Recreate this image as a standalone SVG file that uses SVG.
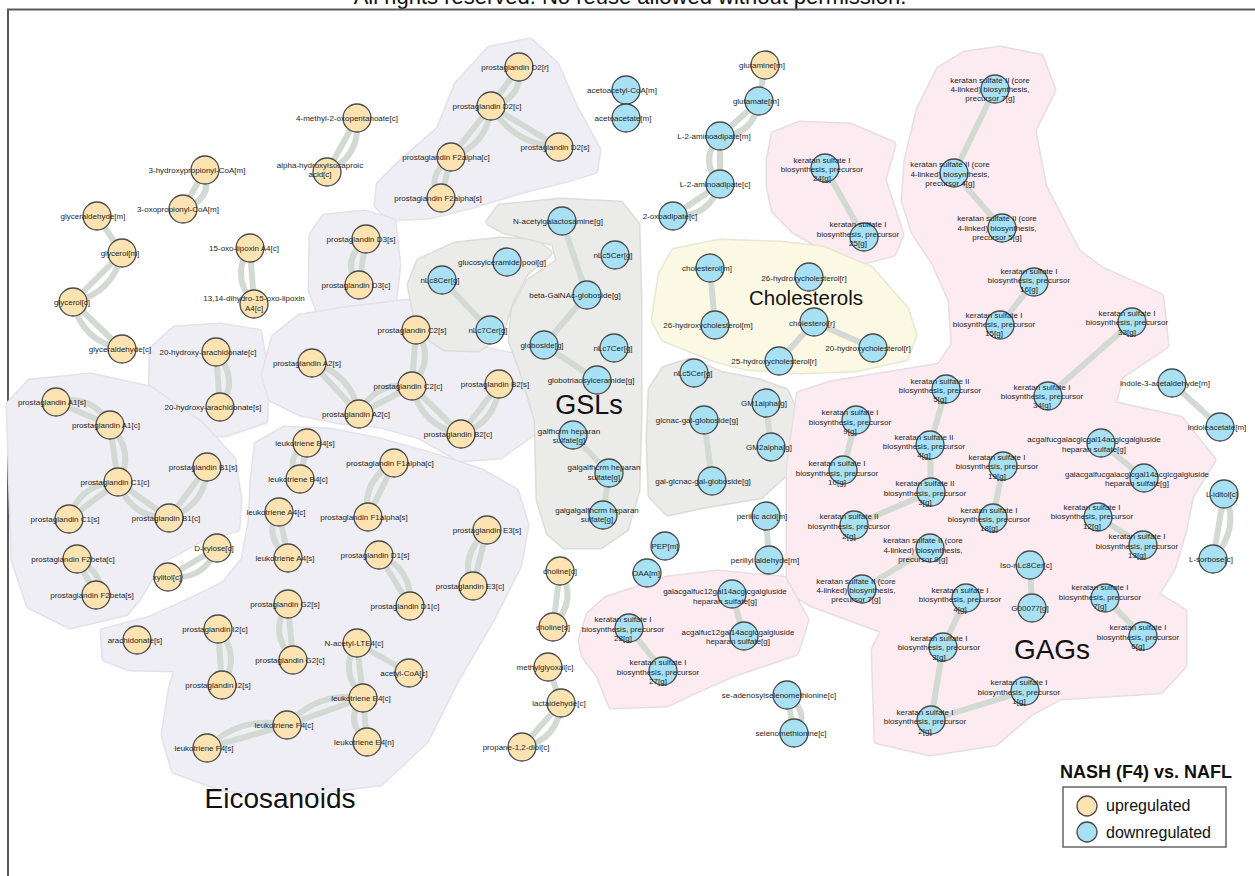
<svg xmlns="http://www.w3.org/2000/svg" xmlns:xlink="http://www.w3.org/1999/xlink" width="1255" height="876" viewBox="0 0 1255 876">
<style>
text{font-family:"Liberation Sans",Arial,sans-serif;font-size:8px;fill:#1e1e1e;text-anchor:middle}
.up{fill:#FDE3B1;stroke:#4a4a4a;stroke-width:1.3}
.dn{fill:#A8E1F3;stroke:#4a4a4a;stroke-width:1.3}
.e{fill:none;stroke:#D3DAD3;stroke-width:6;stroke-linecap:round}
.bo{stroke-width:9;stroke-linejoin:round}
.bi{stroke-width:6;stroke-linejoin:round}
.lav .bo{fill:#E3E1EB;stroke:#E3E1EB}.lav .bi{fill:#EFEEF5;stroke:#EFEEF5}
.gry .bo{fill:#DCDCDA;stroke:#DCDCDA}.gry .bi{fill:#EBEBEA;stroke:#EBEBEA}
.pnk .bo{fill:#E8DDE1;stroke:#E8DDE1}.pnk .bi{fill:#FCEBF0;stroke:#FCEBF0}
.yel .bo{fill:#E9E7D2;stroke:#E9E7D2}.yel .bi{fill:#FBF9E3;stroke:#FBF9E3}
.big{font-size:28px;fill:#111}
.leg{font-size:16px;text-anchor:start;fill:#111}
</style>
<defs>
<polygon id="p-pgd2" points="378,205 380,185 400,165 440,130 458,85 490,50 530,42 555,65 575,110 597,150 594,170 560,180 520,190 470,205 430,215 390,217"/>
<polygon id="p-pgd3" points="313,235 325,218 365,214 392,222 397,265 392,308 360,318 322,316 312,290"/>
<polygon id="p-oh20" points="153,350 175,330 220,327 258,333 265,375 264,420 225,433 165,432 152,405"/>
<polygon id="p-pga2" points="265,375 275,338 300,318 350,310 410,303 445,312 455,338 480,350 530,360 545,390 535,430 500,455 460,458 420,435 380,424 340,420 300,412 272,398"/>
<polygon id="p-l1" points="10,405 30,383 90,377 150,390 200,425 232,460 238,500 236,528 200,538 160,560 137,598 125,612 70,625 30,605 15,560 12,470"/>
<polygon id="p-b" points="258,445 285,430 330,432 380,442 430,456 480,472 515,492 525,525 518,565 490,620 455,680 425,740 380,782 300,792 225,788 175,770 165,735 172,690 178,668 130,667 106,658 104,632 150,620 190,602 225,585 245,560 252,520 254,480"/>
<polygon id="p-gslL" points="411,285 420,262 455,246 500,241 535,243 548,253 525,272 510,300 500,332 478,348 445,347 420,330"/>
<polygon id="p-gslC" points="490,222 500,208 560,202 620,205 636,225 638,300 638,420 636,490 625,528 600,545 565,545 550,532 540,500 538,420 523,370 512,340 515,310 530,282 560,262 555,242 505,230"/>
<polygon id="p-gslR" points="652,390 665,370 690,362 720,375 760,383 785,392 797,420 793,465 760,495 700,505 668,512 652,495 650,440"/>
<polygon id="p-ks2425" points="770,160 775,135 800,125 850,127 892,145 882,180 892,210 900,235 892,253 865,260 830,250 795,230 775,210 770,185"/>
<polygon id="p-gag" points="965,55 1000,50 1040,58 1052,90 1032,130 1043,187 1077,253 1100,270 1160,297 1165,345 1120,375 1112,405 1180,420 1212,460 1190,495 1183,530 1172,567 1155,595 1183,612 1183,665 1160,690 1060,696 1030,712 995,742 930,752 878,740 875,650 885,630 812,603 790,590 790,470 800,395 830,385 940,367 955,345 952,300 935,262 915,232 905,200 908,160 920,110 940,70"/>
<polygon id="p-chol" points="655,320 662,275 675,252 720,243 780,245 823,250 870,270 905,310 913,335 905,357 855,368 800,370 745,366 715,358 690,348 665,338"/>
<polygon id="p-pmid" points="582,640 590,615 607,600 667,580 717,574 783,580 805,620 795,652 733,673 690,692 667,703 612,705 600,675 585,655"/>
</defs>
<rect width="1255" height="876" fill="#ffffff"/>
<text x="630" y="4" style="font-size:22px;fill:#111">All rights reserved. No reuse allowed without permission.</text>
<path d="M8,876 L8,9.5 L1255,9.5" fill="none" stroke="#5a5a5a" stroke-width="2"/>
<g id="blobs">
<g class="lav"><use xlink:href="#p-pgd2" class="bo"/><use xlink:href="#p-pgd2" class="bi"/></g>
<g class="lav"><use xlink:href="#p-pgd3" class="bo"/><use xlink:href="#p-pgd3" class="bi"/></g>
<g class="lav"><use xlink:href="#p-oh20" class="bo"/><use xlink:href="#p-oh20" class="bi"/></g>
<g class="lav"><use xlink:href="#p-pga2" class="bo"/><use xlink:href="#p-pga2" class="bi"/></g>
<g class="lav"><use xlink:href="#p-l1" class="bo"/><use xlink:href="#p-l1" class="bi"/></g>
<g class="lav"><use xlink:href="#p-b" class="bo"/><use xlink:href="#p-b" class="bi"/></g>
<g class="gry"><use xlink:href="#p-gslL" class="bo"/><use xlink:href="#p-gslL" class="bi"/></g>
<g class="gry"><use xlink:href="#p-gslC" class="bo"/><use xlink:href="#p-gslC" class="bi"/></g>
<g class="gry"><use xlink:href="#p-gslR" class="bo"/><use xlink:href="#p-gslR" class="bi"/></g>
<g class="pnk"><use xlink:href="#p-ks2425" class="bo"/><use xlink:href="#p-ks2425" class="bi"/></g>
<g class="pnk"><use xlink:href="#p-gag" class="bo"/><use xlink:href="#p-gag" class="bi"/></g>
<g class="pnk"><use xlink:href="#p-pmid" class="bo"/><use xlink:href="#p-pmid" class="bi"/></g>
<g class="yel"><use xlink:href="#p-chol" class="bo"/><use xlink:href="#p-chol" class="bi"/></g>
</g>
<text class="big" x="280" y="808">Eicosanoids</text>
<text class="big" x="589" y="414" style="font-size:27px">GSLs</text>
<text class="big" x="1052" y="659">GAGs</text>
<text class="big" x="806" y="305" style="font-size:20.5px">Cholesterols</text>
<g id="connectors" class="e">
<path d="M357,118 L327,172 M357,118 Q361,156 327,172"/>
<path d="M205,170 L183,209 M205,170 Q213,200 183,209"/>
<path d="M97,216 L122,253"/>
<path d="M122,253 L73,302 M122,253 Q113,293 73,302"/>
<path d="M73,302 L122,349 M73,302 Q82,341 122,349"/>
<path d="M250,248 L254,304 M250,248 Q230,276 254,304"/>
<path d="M519,67 L491,106 M519,67 Q523,99 491,106"/>
<path d="M491,106 L559,147 M491,106 Q514,145 559,147"/>
<path d="M491,106 L451,157 M491,106 Q488,145 451,157"/>
<path d="M451,157 L441,198 M451,157 Q424,178 441,198"/>
<path d="M366,239 L359,285 M366,239 Q340,262 359,285"/>
<path d="M765,65 L759,101"/>
<path d="M759,101 L720,136 M759,101 Q754,135 720,136"/>
<path d="M720,136 L720,184 M720,136 Q698,160 720,184"/>
<path d="M720,184 L673,216 M720,184 Q709,218 673,216"/>
<path d="M825,168 L864,237"/>
<path d="M995,89 L954,173"/>
<path d="M954,173 L1002,228"/>
<path d="M1034,282 L1000,325"/>
<path d="M1132,322 L1048,396"/>
<path d="M1172,383 L1220,427"/>
<path d="M1224,494 L1213,559 M1224,494 Q1241,527 1213,559"/>
<path d="M946,389 L930,445"/>
<path d="M930,445 L931,492"/>
<path d="M931,492 L854,525"/>
<path d="M856,420 L843,470"/>
<path d="M1003,466 L993,518"/>
<path d="M930,548 L862,589"/>
<path d="M1101,443 L1144,478"/>
<path d="M1098,517 L1143,545"/>
<path d="M1030,565 L1032,608"/>
<path d="M966,598 L943,647"/>
<path d="M943,647 L931,720"/>
<path d="M931,720 L1025,691"/>
<path d="M1105,598 L1143,636"/>
<path d="M710,268 L715,325"/>
<path d="M814,322 L873,348"/>
<path d="M814,322 L779,361"/>
<path d="M442,280 L490,330"/>
<path d="M562,221 L587,295"/>
<path d="M587,295 L544,345"/>
<path d="M544,345 L597,380"/>
<path d="M573,435 L609,473"/>
<path d="M609,473 L603,515"/>
<path d="M704,420 L712,481"/>
<path d="M766,403 L771,447"/>
<path d="M766,516 L769,560"/>
<path d="M560,571 L553,627 M560,571 Q578,599 553,627"/>
<path d="M548,667 L561,703"/>
<path d="M561,703 L522,747 M561,703 Q558,740 522,747"/>
<path d="M732,594 L744,636"/>
<path d="M629,628 L663,671"/>
<path d="M787,695 L794,733 M787,695 Q812,714 794,733"/>
<path d="M216,352 L220,407 M216,352 Q240,380 220,407"/>
<path d="M56,402 L110,425 M56,402 Q92,393 110,425"/>
<path d="M110,425 L118,482 M110,425 Q136,453 118,482"/>
<path d="M118,482 L69,519 M118,482 Q80,483 69,519"/>
<path d="M118,482 L169,518 M118,482 Q131,518 169,518"/>
<path d="M169,518 L207,467 M169,518 Q206,505 207,467"/>
<path d="M77,559 L96,595 M77,559 Q108,577 96,595"/>
<path d="M217,548 L168,577 M217,548 Q204,581 168,577"/>
<path d="M312,363 L359,414 M312,363 Q352,374 359,414"/>
<path d="M359,414 L412,386 M359,414 Q375,381 412,386"/>
<path d="M416,330 L412,386 M416,330 Q436,358 412,386"/>
<path d="M412,386 L461,434 M412,386 Q421,426 461,434"/>
<path d="M499,384 L461,434 M499,384 Q497,422 461,434"/>
<path d="M307,443 L300,479 M307,443 Q282,461 300,479"/>
<path d="M279,512 L288,558 M279,512 Q262,535 288,558"/>
<path d="M394,463 L368,517 M394,463 Q361,481 368,517"/>
<path d="M379,555 L410,606 M379,555 Q413,569 410,606"/>
<path d="M487,530 L473,586 M487,530 Q458,558 473,586"/>
<path d="M288,604 L293,660 M288,604 Q268,632 293,660"/>
<path d="M218,629 L222,685 M218,629 Q242,657 222,685"/>
<path d="M357,643 L363,698 M357,643 Q338,670 363,698"/>
<path d="M357,643 L409,673"/>
<path d="M363,698 L287,725 M363,698 Q318,691 287,725"/>
<path d="M363,698 L367,742 M363,698 Q343,720 367,742"/>
<path d="M287,725 L207,748 M287,725 Q241,715 207,748"/>
</g>
<g id="nodes">
<g id="n-mop"><circle class="up" cx="357" cy="118" r="14"/><text x="347" y="121">4-methyl-2-oxopentanoate[c]</text></g>
<g id="n-ahic"><circle class="up" cx="327" cy="172" r="14"/><text x="320" y="168">alpha-hydroxyisocaproic<tspan x="320" dy="9">acid[c]</tspan></text></g>
<g id="n-3hp"><circle class="up" cx="205" cy="170" r="14"/><text x="197" y="173">3-hydroxypropionyl-CoA[m]</text></g>
<g id="n-3op"><circle class="up" cx="183" cy="209" r="14"/><text x="178" y="212">3-oxopropionyl-CoA[m]</text></g>
<g id="n-gam"><circle class="up" cx="97" cy="216" r="14"/><text x="93" y="219">glyceraldehyde[m]</text></g>
<g id="n-glm"><circle class="up" cx="122" cy="253" r="14"/><text x="120" y="256">glycerol[m]</text></g>
<g id="n-glc"><circle class="up" cx="73" cy="302" r="14"/><text x="72" y="305">glycerol[c]</text></g>
<g id="n-gac"><circle class="up" cx="122" cy="349" r="14"/><text x="120" y="352">glyceraldehyde[c]</text></g>
<g id="n-oxl"><circle class="up" cx="250" cy="248" r="14"/><text x="244" y="251">15-oxo-lipoxin A4[c]</text></g>
<g id="n-dhl"><circle class="up" cx="254" cy="304" r="14"/><text x="254" y="301">13,14-dihydro-15-oxo-lipoxin<tspan x="254" dy="10">A4[c]</tspan></text></g>
<g id="n-pgd2r"><circle class="up" cx="519" cy="67" r="14"/><text x="515" y="70">prostaglandin D2[r]</text></g>
<g id="n-pgd2c"><circle class="up" cx="491" cy="106" r="14"/><text x="487" y="109">prostaglandin D2[c]</text></g>
<g id="n-pgd2s"><circle class="up" cx="559" cy="147" r="14"/><text x="555" y="150">prostaglandin D2[s]</text></g>
<g id="n-pgf2ac"><circle class="up" cx="451" cy="157" r="14"/><text x="446" y="160">prostaglandin F2alpha[c]</text></g>
<g id="n-pgf2as"><circle class="up" cx="441" cy="198" r="14"/><text x="438" y="201">prostaglandin F2alpha[s]</text></g>
<g id="n-pgd3s"><circle class="up" cx="366" cy="239" r="14"/><text x="361" y="242">prostaglandin D3[s]</text></g>
<g id="n-pgd3c"><circle class="up" cx="359" cy="285" r="14"/><text x="356" y="288">prostaglandin D3[c]</text></g>
<g id="n-aacoa"><circle class="dn" cx="626" cy="90" r="14"/><text x="622" y="93">acetoacetyl-CoA[m]</text></g>
<g id="n-aac"><circle class="dn" cx="626" cy="118" r="14"/><text x="623" y="121">acetoacetate[m]</text></g>
<g id="n-gln"><circle class="up" cx="765" cy="65" r="14"/><text x="762" y="68">glutamine[m]</text></g>
<g id="n-glu"><circle class="dn" cx="759" cy="101" r="14"/><text x="756" y="104">glutamate[m]</text></g>
<g id="n-l2am"><circle class="dn" cx="720" cy="136" r="14"/><text x="714" y="139">L-2-aminoadipate[m]</text></g>
<g id="n-l2ac"><circle class="dn" cx="720" cy="184" r="14"/><text x="715" y="187">L-2-aminoadipate[c]</text></g>
<g id="n-oxoad"><circle class="dn" cx="673" cy="216" r="14"/><text x="670" y="219">2-oxoadipate[c]</text></g>
<g id="n-ks24"><circle class="dn" cx="825" cy="168" r="14"/><text x="822" y="163">keratan sulfate I<tspan x="822" dy="9">biosynthesis, precursor</tspan><tspan x="822" dy="9">24[g]</tspan></text></g>
<g id="n-ks25"><circle class="dn" cx="864" cy="237" r="14"/><text x="858" y="227">keratan sulfate I<tspan x="858" dy="9.5">biosynthesis, precursor</tspan><tspan x="858" dy="9.5">25[g]</tspan></text></g>
<g id="n-ks2c7a"><circle class="dn" cx="995" cy="89" r="14"/><text x="990" y="83">keratan sulfate II (core<tspan x="990" dy="9">4-linked) biosynthesis,</tspan><tspan x="990" dy="9">precursor 7[g]</tspan></text></g>
<g id="n-ks2c4"><circle class="dn" cx="954" cy="173" r="14"/><text x="950" y="167">keratan sulfate II (core<tspan x="950" dy="9.5">4-linked) biosynthesis,</tspan><tspan x="950" dy="9.5">precursor 4[g]</tspan></text></g>
<g id="n-ks2c5"><circle class="dn" cx="1002" cy="228" r="14"/><text x="997" y="221">keratan sulfate II (core<tspan x="997" dy="9.5">4-linked) biosynthesis,</tspan><tspan x="997" dy="9.5">precursor 5[g]</tspan></text></g>
<g id="n-ks16"><circle class="dn" cx="1034" cy="282" r="14"/><text x="1029" y="274">keratan sulfate I<tspan x="1029" dy="9">biosynthesis, precursor</tspan><tspan x="1029" dy="9">16[g]</tspan></text></g>
<g id="n-ks15"><circle class="dn" cx="1000" cy="325" r="14"/><text x="994" y="318">keratan sulfate I<tspan x="994" dy="9">biosynthesis, precursor</tspan><tspan x="994" dy="9">15[g]</tspan></text></g>
<g id="n-ks33"><circle class="dn" cx="1132" cy="322" r="14"/><text x="1127" y="316">keratan sulfate I<tspan x="1127" dy="9">biosynthesis, precursor</tspan><tspan x="1127" dy="9.5">33[g]</tspan></text></g>
<g id="n-ks34"><circle class="dn" cx="1048" cy="396" r="14"/><text x="1042" y="390">keratan sulfate I<tspan x="1042" dy="9">biosynthesis, precursor</tspan><tspan x="1042" dy="9">34[g]</tspan></text></g>
<g id="n-ind3a"><circle class="dn" cx="1172" cy="383" r="14"/><text x="1165" y="386">indole-3-acetaldehyde[m]</text></g>
<g id="n-indac"><circle class="dn" cx="1220" cy="427" r="14"/><text x="1217" y="430">indoleacetate[m]</text></g>
<g id="n-liditol"><circle class="dn" cx="1224" cy="494" r="14"/><text x="1222" y="497">L-iditol[c]</text></g>
<g id="n-lsorb"><circle class="dn" cx="1213" cy="559" r="14"/><text x="1211" y="562">L-sorbose[c]</text></g>
<g id="n-ks2-5"><circle class="dn" cx="946" cy="389" r="14"/><text x="940" y="384">keratan sulfate II<tspan x="940" dy="9">biosynthesis, precursor</tspan><tspan x="940" dy="9">5[g]</tspan></text></g>
<g id="n-ks2-4"><circle class="dn" cx="930" cy="445" r="14"/><text x="924" y="440">keratan sulfate II<tspan x="924" dy="9">biosynthesis, precursor</tspan><tspan x="924" dy="9">4[g]</tspan></text></g>
<g id="n-ks2-3"><circle class="dn" cx="931" cy="492" r="14"/><text x="925" y="486">keratan sulfate II<tspan x="925" dy="9.5">biosynthesis, precursor</tspan><tspan x="925" dy="9.5">3[g]</tspan></text></g>
<g id="n-ks2-2"><circle class="dn" cx="854" cy="525" r="14"/><text x="849" y="519">keratan sulfate II<tspan x="849" dy="10">biosynthesis, precursor</tspan><tspan x="849" dy="10">2[g]</tspan></text></g>
<g id="n-ks2c8"><circle class="dn" cx="930" cy="548" r="14"/><text x="923" y="543">keratan sulfate II (core<tspan x="923" dy="9.5">4-linked) biosynthesis,</tspan><tspan x="923" dy="9.5">precursor 8[g]</tspan></text></g>
<g id="n-ks2c7b"><circle class="dn" cx="862" cy="589" r="14"/><text x="856" y="584">keratan sulfate II (core<tspan x="856" dy="9">4-linked) biosynthesis,</tspan><tspan x="856" dy="9">precursor 7[g]</tspan></text></g>
<g id="n-ks9"><circle class="dn" cx="856" cy="420" r="14"/><text x="850" y="415">keratan sulfate I<tspan x="850" dy="9.5">biosynthesis, precursor</tspan><tspan x="850" dy="9.5">9[g]</tspan></text></g>
<g id="n-ks10"><circle class="dn" cx="843" cy="470" r="14"/><text x="837" y="466">keratan sulfate I<tspan x="837" dy="10">biosynthesis, precursor</tspan><tspan x="837" dy="9">10[g]</tspan></text></g>
<g id="n-ks19"><circle class="dn" cx="1003" cy="466" r="14"/><text x="997" y="460">keratan sulfate I<tspan x="997" dy="9">biosynthesis, precursor</tspan><tspan x="997" dy="10">19[g]</tspan></text></g>
<g id="n-ks18"><circle class="dn" cx="993" cy="518" r="14"/><text x="989" y="513">keratan sulfate I<tspan x="989" dy="9">biosynthesis, precursor</tspan><tspan x="989" dy="9">18[g]</tspan></text></g>
<g id="n-ks12"><circle class="dn" cx="1098" cy="517" r="14"/><text x="1092" y="510">keratan sulfate I<tspan x="1092" dy="9">biosynthesis, precursor</tspan><tspan x="1092" dy="10">12[g]</tspan></text></g>
<g id="n-ks13"><circle class="dn" cx="1143" cy="545" r="14"/><text x="1137" y="539">keratan sulfate I<tspan x="1137" dy="10">biosynthesis, precursor</tspan><tspan x="1137" dy="9">13[g]</tspan></text></g>
<g id="n-acgal"><circle class="dn" cx="1101" cy="443" r="14"/><text x="1094" y="442">acgalfucgalacglcgal14acglcgalgluside<tspan x="1094" dy="10">heparan sulfate[g]</tspan></text></g>
<g id="n-galacgal"><circle class="dn" cx="1144" cy="478" r="14"/><text x="1137" y="477">galacgalfucgalacglcgal14acglcgalgluside<tspan x="1137" dy="9">heparan sulfate[g]</tspan></text></g>
<g id="n-isonlc"><circle class="dn" cx="1030" cy="565" r="14"/><text x="1026" y="568">Iso-nLc8Cer[c]</text></g>
<g id="n-g00077"><circle class="dn" cx="1032" cy="608" r="14"/><text x="1030" y="611">G00077[g]</text></g>
<g id="n-ks4"><circle class="dn" cx="966" cy="598" r="14"/><text x="960" y="593">keratan sulfate I<tspan x="960" dy="9">biosynthesis, precursor</tspan><tspan x="960" dy="10">4[g]</tspan></text></g>
<g id="n-ks3"><circle class="dn" cx="943" cy="647" r="14"/><text x="939" y="641">keratan sulfate I<tspan x="939" dy="9">biosynthesis, precursor</tspan><tspan x="939" dy="10">3[g]</tspan></text></g>
<g id="n-ks2"><circle class="dn" cx="931" cy="720" r="14"/><text x="925" y="715">keratan sulfate I<tspan x="925" dy="9">biosynthesis, precursor</tspan><tspan x="925" dy="10">2[g]</tspan></text></g>
<g id="n-ks1"><circle class="dn" cx="1025" cy="691" r="14"/><text x="1019" y="685">keratan sulfate I<tspan x="1019" dy="10">biosynthesis, precursor</tspan><tspan x="1019" dy="9">1[g]</tspan></text></g>
<g id="n-ks7"><circle class="dn" cx="1105" cy="598" r="14"/><text x="1100" y="590">keratan sulfate I<tspan x="1100" dy="10">biosynthesis, precursor</tspan><tspan x="1100" dy="9">7[g]</tspan></text></g>
<g id="n-ks6"><circle class="dn" cx="1143" cy="636" r="14"/><text x="1138" y="630">keratan sulfate I<tspan x="1138" dy="10">biosynthesis, precursor</tspan><tspan x="1138" dy="9">6[g]</tspan></text></g>
<g id="n-cholm"><circle class="dn" cx="710" cy="268" r="14"/><text x="707" y="271">cholesterol[m]</text></g>
<g id="n-oh26r"><circle class="dn" cx="809" cy="277" r="14"/><text x="804" y="281">26-hydroxycholesterol[r]</text></g>
<g id="n-oh26m"><circle class="dn" cx="715" cy="325" r="14"/><text x="708" y="328">26-hydroxycholesterol[m]</text></g>
<g id="n-cholr"><circle class="dn" cx="814" cy="322" r="14"/><text x="812" y="326">cholesterol[r]</text></g>
<g id="n-oh20r"><circle class="dn" cx="873" cy="348" r="14"/><text x="868" y="351">20-hydroxycholesterol[r]</text></g>
<g id="n-oh25r"><circle class="dn" cx="779" cy="361" r="14"/><text x="774" y="364">25-hydroxycholesterol[r]</text></g>
<g id="n-glccer"><circle class="dn" cx="507" cy="262" r="14"/><text x="502" y="265">glucosylceramide pool[g]</text></g>
<g id="n-nlc8"><circle class="dn" cx="442" cy="280" r="14"/><text x="440" y="283">nLc8Cer[g]</text></g>
<g id="n-nlc7a"><circle class="dn" cx="490" cy="330" r="14"/><text x="488" y="333">nLc7Cer[g]</text></g>
<g id="n-nacgal"><circle class="dn" cx="562" cy="221" r="14"/><text x="558" y="224">N-acetylgalactosamine[g]</text></g>
<g id="n-nlc5a"><circle class="dn" cx="615" cy="255" r="14"/><text x="613" y="258">nLc5Cer[g]</text></g>
<g id="n-bgalnac"><circle class="dn" cx="587" cy="295" r="14"/><text x="575" y="298">beta-GalNAc-globoside[g]</text></g>
<g id="n-globo"><circle class="dn" cx="544" cy="345" r="14"/><text x="542" y="348">globoside[g]</text></g>
<g id="n-nlc7b"><circle class="dn" cx="614" cy="348" r="14"/><text x="613" y="351">nLc7Cer[g]</text></g>
<g id="n-gb3"><circle class="dn" cx="597" cy="380" r="14"/><text x="591" y="383">globotriaosylceramide[g]</text></g>
<g id="n-galf"><circle class="dn" cx="573" cy="435" r="14"/><text x="569" y="434">galfhcrm heparan<tspan x="569" dy="9">sulfate[g]</tspan></text></g>
<g id="n-galgalf"><circle class="dn" cx="609" cy="473" r="14"/><text x="604" y="470">galgalfhcrm heparan<tspan x="604" dy="10">sulfate[g]</tspan></text></g>
<g id="n-galgalgalf"><circle class="dn" cx="603" cy="515" r="14"/><text x="597" y="513">galgalgalfhcrm heparan<tspan x="597" dy="9">sulfate[g]</tspan></text></g>
<g id="n-nlc5b"><circle class="dn" cx="694" cy="373" r="14"/><text x="693" y="376">nLc5Cer[g]</text></g>
<g id="n-gm1"><circle class="dn" cx="766" cy="403" r="14"/><text x="764" y="406">GM1alpha[g]</text></g>
<g id="n-glcnac"><circle class="dn" cx="704" cy="420" r="14"/><text x="697" y="423">glcnac-gal-globoside[g]</text></g>
<g id="n-gm2"><circle class="dn" cx="771" cy="447" r="14"/><text x="769" y="450">GM2alpha[g]</text></g>
<g id="n-galglcnac"><circle class="dn" cx="712" cy="481" r="14"/><text x="703" y="484">gal-glcnac-gal-globoside[g]</text></g>
<g id="n-perillic"><circle class="dn" cx="766" cy="516" r="14"/><text x="762" y="519">perillic acid[m]</text></g>
<g id="n-perillyl"><circle class="dn" cx="769" cy="560" r="14"/><text x="765" y="563">perillyl aldehyde[m]</text></g>
<g id="n-pep"><circle class="dn" cx="665" cy="546" r="14"/><text x="665" y="549">PEP[m]</text></g>
<g id="n-oaa"><circle class="dn" cx="647" cy="573" r="14"/><text x="646" y="576">OAA[m]</text></g>
<g id="n-cholc"><circle class="up" cx="560" cy="571" r="14"/><text x="560" y="574">choline[c]</text></g>
<g id="n-chols"><circle class="up" cx="553" cy="627" r="14"/><text x="553" y="630">choline[s]</text></g>
<g id="n-mgx"><circle class="up" cx="548" cy="667" r="14"/><text x="545" y="670">methylglyoxal[c]</text></g>
<g id="n-lact"><circle class="up" cx="561" cy="703" r="14"/><text x="559" y="706">lactaldehyde[c]</text></g>
<g id="n-prop"><circle class="up" cx="522" cy="747" r="14"/><text x="516" y="750">propane-1,2-diol[c]</text></g>
<g id="n-galacgalfuc"><circle class="dn" cx="732" cy="594" r="14"/><text x="725" y="594">galacgalfuc12gal14acglcgalgluside<tspan x="725" dy="10">heparan sulfate[g]</tspan></text></g>
<g id="n-acgalfuc"><circle class="dn" cx="744" cy="636" r="14"/><text x="738" y="635">acgalfuc12gal14acglcgalgluside<tspan x="738" dy="9">heparan sulfate[g]</tspan></text></g>
<g id="n-ks28"><circle class="dn" cx="629" cy="628" r="14"/><text x="623" y="622">keratan sulfate I<tspan x="623" dy="10">biosynthesis, precursor</tspan><tspan x="623" dy="9">28[g]</tspan></text></g>
<g id="n-ks27"><circle class="dn" cx="663" cy="671" r="14"/><text x="658" y="665">keratan sulfate I<tspan x="658" dy="10">biosynthesis, precursor</tspan><tspan x="658" dy="9">27[g]</tspan></text></g>
<g id="n-seados"><circle class="dn" cx="787" cy="695" r="14"/><text x="779" y="698">se-adenosylselenomethionine[c]</text></g>
<g id="n-selmet"><circle class="dn" cx="794" cy="733" r="14"/><text x="791" y="736">selenomethionine[c]</text></g>
<g id="n-oh20c"><circle class="up" cx="216" cy="352" r="14"/><text x="208" y="355">20-hydroxy-arachidonate[c]</text></g>
<g id="n-oh20s"><circle class="up" cx="220" cy="407" r="14"/><text x="213" y="410">20-hydroxy-arachidonate[s]</text></g>
<g id="n-pga1s"><circle class="up" cx="56" cy="402" r="14"/><text x="52" y="405">prostaglandin A1[s]</text></g>
<g id="n-pga1c"><circle class="up" cx="110" cy="425" r="14"/><text x="106" y="428">prostaglandin A1[c]</text></g>
<g id="n-pgc1c"><circle class="up" cx="118" cy="482" r="14"/><text x="115" y="485">prostaglandin C1[c]</text></g>
<g id="n-pgb1s"><circle class="up" cx="207" cy="467" r="14"/><text x="203" y="470">prostaglandin B1[s]</text></g>
<g id="n-pgc1s"><circle class="up" cx="69" cy="519" r="14"/><text x="65" y="522">prostaglandin C1[s]</text></g>
<g id="n-pgb1c"><circle class="up" cx="169" cy="518" r="14"/><text x="166" y="521">prostaglandin B1[c]</text></g>
<g id="n-pgf2bc"><circle class="up" cx="77" cy="559" r="14"/><text x="73" y="562">prostaglandin F2beta[c]</text></g>
<g id="n-pgf2bs"><circle class="up" cx="96" cy="595" r="14"/><text x="92" y="598">prostaglandin F2beta[s]</text></g>
<g id="n-dxyl"><circle class="up" cx="217" cy="548" r="14"/><text x="214" y="551">D-xylose[c]</text></g>
<g id="n-xylitol"><circle class="up" cx="168" cy="577" r="14"/><text x="167" y="580">xylitol[c]</text></g>
<g id="n-pga2s"><circle class="up" cx="312" cy="363" r="14"/><text x="307" y="366">prostaglandin A2[s]</text></g>
<g id="n-pga2c"><circle class="up" cx="359" cy="414" r="14"/><text x="356" y="417">prostaglandin A2[c]</text></g>
<g id="n-pgc2s"><circle class="up" cx="416" cy="330" r="14"/><text x="412" y="333">prostaglandin C2[s]</text></g>
<g id="n-pgc2c"><circle class="up" cx="412" cy="386" r="14"/><text x="408" y="389">prostaglandin C2[c]</text></g>
<g id="n-pgb2s"><circle class="up" cx="499" cy="384" r="14"/><text x="495" y="387">prostaglandin B2[s]</text></g>
<g id="n-pgb2c"><circle class="up" cx="461" cy="434" r="14"/><text x="458" y="437">prostaglandin B2[c]</text></g>
<g id="n-ltb4s"><circle class="up" cx="307" cy="443" r="14"/><text x="305" y="446">leukotriene B4[s]</text></g>
<g id="n-ltb4c"><circle class="up" cx="300" cy="479" r="14"/><text x="298" y="482">leukotriene B4[c]</text></g>
<g id="n-lta4c"><circle class="up" cx="279" cy="512" r="14"/><text x="276" y="515">leukotriene A4[c]</text></g>
<g id="n-lta4s"><circle class="up" cx="288" cy="558" r="14"/><text x="285" y="561">leukotriene A4[s]</text></g>
<g id="n-pgf1ac"><circle class="up" cx="394" cy="463" r="14"/><text x="390" y="466">prostaglandin F1alpha[c]</text></g>
<g id="n-pgf1as"><circle class="up" cx="368" cy="517" r="14"/><text x="364" y="520">prostaglandin F1alpha[s]</text></g>
<g id="n-pgd1s"><circle class="up" cx="379" cy="555" r="14"/><text x="375" y="558">prostaglandin D1[s]</text></g>
<g id="n-pgd1c"><circle class="up" cx="410" cy="606" r="14"/><text x="405" y="609">prostaglandin D1[c]</text></g>
<g id="n-pge3s"><circle class="up" cx="487" cy="530" r="14"/><text x="487" y="533">prostaglandin E3[s]</text></g>
<g id="n-pge3c"><circle class="up" cx="473" cy="586" r="14"/><text x="470" y="589">prostaglandin E3[c]</text></g>
<g id="n-pgg2s"><circle class="up" cx="288" cy="604" r="14"/><text x="285" y="607">prostaglandin G2[s]</text></g>
<g id="n-pgg2c"><circle class="up" cx="293" cy="660" r="14"/><text x="290" y="663">prostaglandin G2[c]</text></g>
<g id="n-pgi2c"><circle class="up" cx="218" cy="629" r="14"/><text x="215" y="632">prostaglandin I2[c]</text></g>
<g id="n-pgi2s"><circle class="up" cx="222" cy="685" r="14"/><text x="218" y="688">prostaglandin I2[s]</text></g>
<g id="n-arach"><circle class="up" cx="137" cy="640" r="14"/><text x="135" y="643">arachidonate[s]</text></g>
<g id="n-nacl"><circle class="up" cx="357" cy="643" r="14"/><text x="354" y="646">N-acetyl-LTE4[c]</text></g>
<g id="n-acoa"><circle class="up" cx="409" cy="673" r="14"/><text x="404" y="676">acetyl-CoA[c]</text></g>
<g id="n-lte4c"><circle class="up" cx="363" cy="698" r="14"/><text x="361" y="701">leukotriene E4[c]</text></g>
<g id="n-ltf4c"><circle class="up" cx="287" cy="725" r="14"/><text x="284" y="728">leukotriene F4[c]</text></g>
<g id="n-lte4n"><circle class="up" cx="367" cy="742" r="14"/><text x="364" y="745">leukotriene E4[n]</text></g>
<g id="n-ltf4s"><circle class="up" cx="207" cy="748" r="14"/><text x="204" y="751">leukotriene F4[s]</text></g>
</g>
<g id="legend">
<text x="1146" y="778" style="font-size:18px;font-weight:bold;fill:#111">NASH (F4) vs. NAFL</text>
<rect x="1063" y="787" width="163" height="60" fill="#ffffff" stroke="#666" stroke-width="1.5"/>
<circle class="up" cx="1087" cy="806" r="10"/>
<circle class="dn" cx="1087" cy="832" r="10"/>
<text class="leg" x="1106" y="811">upregulated</text>
<text class="leg" x="1106" y="838">downregulated</text>
</g>
</svg>
